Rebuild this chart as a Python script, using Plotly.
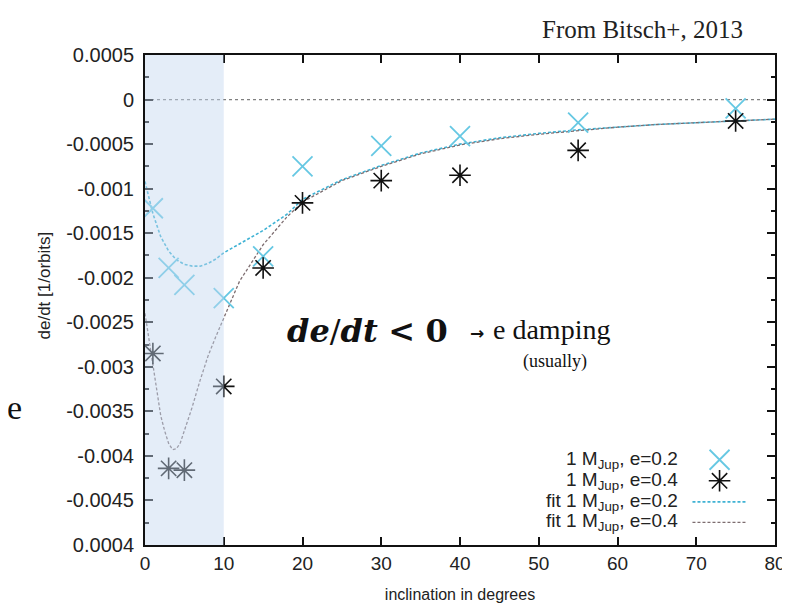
import plotly.graph_objects as go

# ---------------- data ----------------
inclination = [1, 3, 5, 10, 15, 20, 30, 40, 55, 75]
dedt_e02 = [-0.00122, -0.00189, -0.00208, -0.00223, -0.00176, -0.00075,
            -0.00052, -0.00041, -0.00026, -0.00010]
dedt_e04 = [-0.00285, -0.00414, -0.00416, -0.00322, -0.00189, -0.00116,
            -0.00091, -0.00085, -0.00057, -0.00024]

fit_incl_e02 = [0, 1, 2, 3, 4, 5, 6, 7, 8, 9, 10, 12, 15, 18, 20, 25, 30,
                35, 40, 45, 50, 55, 60, 65, 70, 75, 80]
fit_e02 = [-0.00092, -0.00128, -0.00154, -0.00170, -0.00180, -0.00185,
           -0.00187, -0.00187, -0.00184, -0.00179, -0.00172, -0.00162,
           -0.00147, -0.00129, -0.00112, -0.00090, -0.00074, -0.00060,
           -0.00050, -0.00043, -0.00038, -0.00034, -0.00031, -0.00028,
           -0.00026, -0.00024, -0.00022]

fit_incl_e04 = [0, 0.5, 1, 1.5, 2, 2.5, 3, 3.5, 4, 4.5, 5, 6, 7, 8, 9, 10,
                12, 15, 18, 20, 25, 30, 35, 40, 45, 50, 55, 60, 65, 70, 75, 80]
fit_e04 = [-0.00240, -0.00270, -0.00295, -0.00330, -0.00355, -0.00372,
           -0.00386, -0.00393, -0.00392, -0.00385, -0.00372, -0.00345,
           -0.00315, -0.00288, -0.00266, -0.00246, -0.00204, -0.00163,
           -0.00132, -0.00115, -0.00091, -0.00075, -0.00061, -0.00051,
           -0.00044, -0.00039, -0.00035, -0.00031, -0.00028, -0.00026,
           -0.00024, -0.00022]

x_ticks = [0, 10, 20, 30, 40, 50, 60, 70, 80]
y_tick_vals = [0.0005, 0, -0.0005, -0.001, -0.0015, -0.002, -0.0025, -0.003,
               -0.0035, -0.004, -0.0045, -0.005]
y_tick_text = ["0.0005", "0", "-0.0005", "-0.001", "-0.0015", "-0.002",
               "-0.0025", "-0.003", "-0.0035", "-0.004", "-0.0045", "0.0004"]

legend_labels = ["1 M<sub>Jup</sub>, e=0.2", "1 M<sub>Jup</sub>, e=0.4",
                 "fit 1 M<sub>Jup</sub>, e=0.2", "fit 1 M<sub>Jup</sub>, e=0.4"]
shade_range = [0, 10]

# ---------------- styles ----------------
C_X = "#66c8e3"
C_STAR = "#111111"
C_FIT02 = "#3fb2d4"
C_FIT04 = "#7d6d70"
SANS = "Liberation Sans, Arial, sans-serif"
SERIF = "Liberation Serif, Times New Roman, serif"
MATH = "DejaVu Serif, serif"

fig = go.Figure()

fig.add_trace(go.Scatter(x=fit_incl_e02, y=fit_e02, mode="lines",
                         line=dict(color=C_FIT02, width=1.6, dash="3px,2px"),
                         showlegend=False, hoverinfo="skip"))
fig.add_trace(go.Scatter(x=fit_incl_e04, y=fit_e04, mode="lines",
                         line=dict(color=C_FIT04, width=1.3, dash="3px,2px"),
                         showlegend=False, hoverinfo="skip"))
fig.add_trace(go.Scatter(x=inclination, y=dedt_e02, mode="markers",
                         marker=dict(symbol="x-thin-open", size=20, color=C_X,
                                     line=dict(color=C_X, width=1.8)),
                         showlegend=False))
fig.add_trace(go.Scatter(x=inclination, y=dedt_e04, mode="markers",
                         marker=dict(symbol="asterisk-open", size=18, color=C_STAR,
                                     line=dict(color=C_STAR, width=1.6)),
                         showlegend=False))

# ---- gnuplot-style legend (text on the left, key on the right) ----
leg_rows_y = [0.174, 0.131, 0.088, 0.046]
leg_text_x = 0.849
leg_key_x = 0.912
leg_line_x = [0.869, 0.956]
fig.add_trace(go.Scatter(x=[leg_key_x], y=[leg_rows_y[0]], xaxis="x2", yaxis="y2",
                         mode="markers", showlegend=False, hoverinfo="skip",
                         marker=dict(symbol="x-thin-open", size=20, color=C_X,
                                     line=dict(color=C_X, width=1.8))))
fig.add_trace(go.Scatter(x=[leg_key_x], y=[leg_rows_y[1]], xaxis="x2", yaxis="y2",
                         mode="markers", showlegend=False, hoverinfo="skip",
                         marker=dict(symbol="asterisk-open", size=18, color=C_STAR,
                                     line=dict(color=C_STAR, width=1.6))))

annotations = []
for lbl, yy in zip(legend_labels, leg_rows_y):
    annotations.append(dict(text=lbl, xref="paper", yref="paper", x=leg_text_x,
                            y=yy, xanchor="right", yanchor="middle",
                            showarrow=False,
                            font=dict(family=SANS, size=19, color="#222")))

shapes = [
    dict(type="rect", xref="x", yref="paper", x0=shade_range[0], x1=shade_range[1],
         y0=0, y1=1, fillcolor="rgba(196,214,240,0.45)", line=dict(width=0),
         layer="above"),
    dict(type="line", xref="paper", yref="y", x0=0, x1=1, y0=0, y1=0,
         line=dict(color="#808080", width=1.2, dash="dot"), layer="below"),
    dict(type="line", xref="paper", yref="paper", x0=leg_line_x[0], x1=leg_line_x[1],
         y0=leg_rows_y[2], y1=leg_rows_y[2],
         line=dict(color=C_FIT02, width=1.6, dash="3px,2px")),
    dict(type="line", xref="paper", yref="paper", x0=leg_line_x[0], x1=leg_line_x[1],
         y0=leg_rows_y[3], y1=leg_rows_y[3],
         line=dict(color=C_FIT04, width=1.3, dash="3px,2px")),
]

annotations += [
    dict(text="From Bitsch+, 2013", xref="paper", yref="paper", x=0.953, y=1.052,
         xanchor="right", yanchor="middle", showarrow=False,
         font=dict(family=SERIF, size=25, color="#222")),
    dict(text="<b><i>de</i></b>/<b><i>dt</i></b>&#8196;<b>&lt;</b>&#8196;<b>0</b>",
         xref="x", yref="y", x=17.8, y=-0.0026, xanchor="left", yanchor="middle",
         showarrow=False, font=dict(family=MATH, size=32, color="#111")),
    dict(text="<b>→</b>", xref="x", yref="y", x=42.1, y=-0.00262,
         xanchor="center", yanchor="middle", showarrow=False,
         font=dict(family="DejaVu Sans, sans-serif", size=17, color="#111")),
    dict(text="e damping", xref="x", yref="y", x=43.9, y=-0.00258,
         xanchor="left", yanchor="middle", showarrow=False,
         font=dict(family=SERIF, size=28, color="#111")),
    dict(text="(usually)", xref="x", yref="y", x=52.0, y=-0.00294,
         xanchor="center", yanchor="middle", showarrow=False,
         font=dict(family=SERIF, size=18, color="#111")),
    dict(text="e", xref="paper", yref="paper", x=-0.222, y=0.28,
         xanchor="left", yanchor="middle", showarrow=False,
         font=dict(family=SERIF, size=34, color="#111")),
    dict(text="de/dt [1/orbits]", xref="paper", yref="paper", x=-0.16, y=0.53,
         textangle=-90, xanchor="center", yanchor="middle", showarrow=False,
         font=dict(family=SANS, size=17, color="#222")),
]

fig.update_layout(
    width=790, height=614,
    margin=dict(l=137, r=17, t=47, b=77),
    paper_bgcolor="white", plot_bgcolor="white",
    showlegend=False,
    shapes=shapes, annotations=annotations,
    xaxis=dict(range=[0, 80], tickvals=x_ticks, ticks="inside", ticklen=8,
               tickwidth=1.5, tickcolor="#111", showgrid=False, zeroline=False,
               showline=True, linecolor="#111", linewidth=2, mirror="ticks",
               tickfont=dict(family=SANS, size=19, color="#222"),
               title=dict(text="inclination in degrees", standoff=16,
                          font=dict(family=SANS, size=16, color="#222"))),
    yaxis=dict(range=[-0.005, 0.0005], tickmode="array", tickvals=y_tick_vals,
               ticktext=y_tick_text, ticks="inside", ticklen=8, tickwidth=1.5,
               tickcolor="#111", showgrid=False, zeroline=False, showline=True,
               linecolor="#111", linewidth=2, mirror="ticks",
               ticklabelstandoff=5,
               minor=dict(tickmode="linear", tick0=0, dtick=0.00025,
                          ticks="inside", ticklen=4, tickcolor="#111"),
               tickfont=dict(family=SANS, size=20, color="#222")),
    xaxis2=dict(range=[0, 1], overlaying="x", visible=False, fixedrange=True),
    yaxis2=dict(range=[0, 1], overlaying="y", visible=False, fixedrange=True),
)

fig.write_html("out.html")
